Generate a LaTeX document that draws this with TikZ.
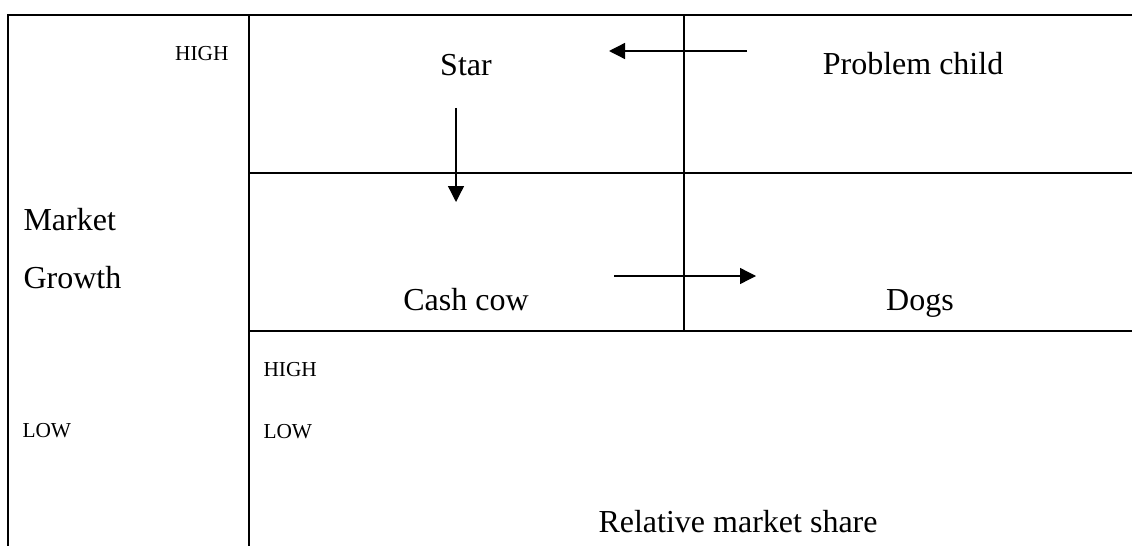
\documentclass[tikz,border=0pt]{standalone}
\usepackage{fontspec}
\setmainfont{Liberation Serif}
\usetikzlibrary{arrows.meta}
\begin{document}
\begin{tikzpicture}[x=0.375pt,y=-0.375pt,
  gridline/.style={line width=0.75pt,line cap=rect},
  flow/.style={line width=0.5pt,-{Triangle[length=6pt,width=6pt]}},
  big/.style={inner sep=0pt,font=\fontsize{12}{14}\selectfont},
  small/.style={inner sep=0pt,font=\fontsize{8}{10}\selectfont}]
\useasboundingbox (0,0) rectangle (1132,545);
% grid
\draw[gridline] (8,545) -- (8,15) -- (1132,15);
\draw[gridline] (249,15) -- (249,545);
\draw[gridline] (249,173) -- (1132,173);
\draw[gridline] (249,331) -- (1132,331);
\draw[gridline] (684,15) -- (684,331);
% labels
\node[small,anchor=base east] (hightop) at (229,61) {HIGH};
\node[big,anchor=base] (star) at (466,76) {Star};
\node[big,anchor=base] (problem) at (913,75) {Problem child};
\node[big,anchor=base west] (market) at (23,230) {Market};
\node[big,anchor=base west] (growth) at (23,288) {Growth};
\node[big,anchor=base] (cashcow) at (466,310) {Cash cow};
\node[big,anchor=base] (dogs) at (920,310) {Dogs};
\node[small,anchor=base west] (highbot) at (263,376) {HIGH};
\node[small,anchor=base west] (lowleft) at (22,437) {LOW};
\node[small,anchor=base west] (lowbot) at (263,438) {LOW};
\node[big,anchor=base west] (share) at (598,532) {Relative market share};
% arrows
\coordinate (a1s) at (747,51);
\coordinate (a1e) at (609,51);
\coordinate (a2s) at (456,108);
\coordinate (a2e) at (456,202);
\coordinate (a3s) at (614,276);
\coordinate (a3e) at (756,276);
\draw[flow] (a1s) -- (a1e);
\draw[flow] (a2s) -- (a2e);
\draw[flow] (a3s) -- (a3e);
\end{tikzpicture}
\end{document}
